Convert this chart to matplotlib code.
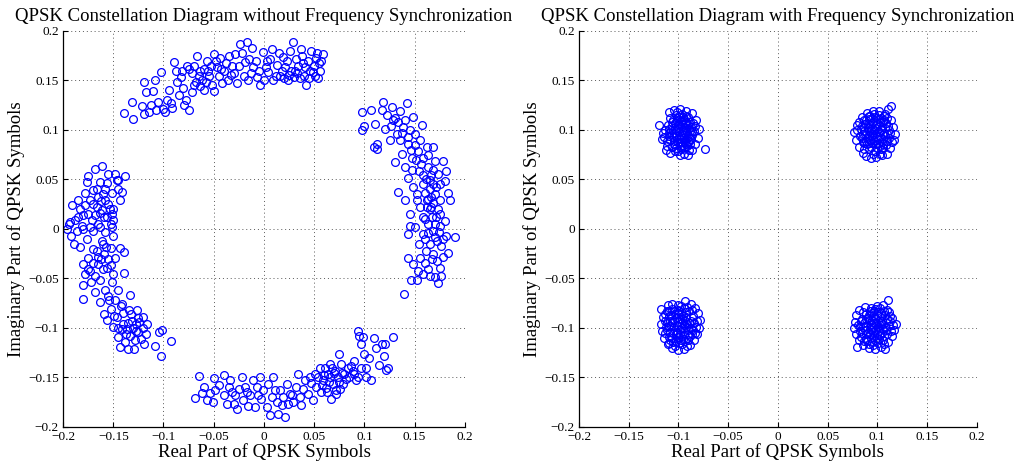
import matplotlib
matplotlib.use("Agg")
import matplotlib.pyplot as plt

plt.rcParams['font.family'] = ['Liberation Serif', 'DejaVu Serif']

# tick positions / labels shared by both panels
TICKS = [-0.2, -0.15, -0.1, -0.05, 0, 0.05, 0.1, 0.15, 0.2]
TICK_LABELS = ["\u22120.2", "\u22120.15", "\u22120.1", "\u22120.05", "0",
               "0.05", "0.1", "0.15", "0.2"]

TITLE_LEFT = "QPSK Constellation Diagram without Frequency Synchronization"
TITLE_RIGHT = "QPSK Constellation Diagram with Frequency Synchronization"
XLABEL = "Real Part of QPSK Symbols"
YLABEL = "Imaginary Part of QPSK Symbols"

# ---- left panel: rotated symbols (real, imag) ----
top_arc = [
    (-0.139, 0.117), (-0.131, 0.128), (-0.130, 0.111), (-0.121, 0.124), (-0.119, 0.148),
    (-0.117, 0.138), (-0.119, 0.116), (-0.114, 0.118), (-0.110, 0.139), (-0.108, 0.150),
    (-0.107, 0.120), (-0.102, 0.159), (-0.100, 0.121), (-0.097, 0.130), (-0.093, 0.127),
    (-0.090, 0.169), (-0.088, 0.160), (-0.087, 0.148), (-0.092, 0.122), (-0.083, 0.153),
    (-0.081, 0.142), (-0.078, 0.130), (-0.077, 0.165), (-0.075, 0.120), (-0.072, 0.158),
    (-0.070, 0.145), (-0.067, 0.175), (-0.064, 0.160), (-0.062, 0.150), (-0.060, 0.140),
    (-0.057, 0.170), (-0.055, 0.155), (-0.052, 0.145), (-0.050, 0.177), (-0.047, 0.164),
    (-0.044, 0.173), (-0.042, 0.147), (-0.040, 0.160), (-0.035, 0.175), (-0.032, 0.165),
    (-0.029, 0.177), (-0.027, 0.147), (-0.024, 0.187), (-0.022, 0.178), (-0.019, 0.169),
    (-0.017, 0.189), (-0.016, 0.150), (-0.012, 0.183), (-0.011, 0.164), (-0.007, 0.154),
    (-0.004, 0.145), (-0.001, 0.179), (0.003, 0.170), (0.004, 0.159), (0.008, 0.182),
    (0.009, 0.150), (0.013, 0.166), (0.016, 0.155), (0.019, 0.174), (0.021, 0.164),
    (0.024, 0.150), (0.026, 0.180), (0.029, 0.189), (0.031, 0.160), (0.032, 0.172),
    (0.036, 0.152), (0.037, 0.182), (0.041, 0.164), (0.042, 0.145), (0.047, 0.180),
    (0.049, 0.159), (0.052, 0.173), (0.054, 0.152), (0.057, 0.170), (0.059, 0.177),
    (0.056, 0.160), (-0.050, 0.139), (-0.065, 0.155), (-0.058, 0.148), (-0.053, 0.165),
    (-0.045, 0.155), (-0.038, 0.168), (-0.036, 0.150), (-0.030, 0.158), (-0.025, 0.165),
    (-0.020, 0.155), (-0.015, 0.172), (-0.008, 0.170), (-0.005, 0.160), (0.000, 0.150),
    (0.006, 0.172), (0.012, 0.155), (0.015, 0.178), (0.020, 0.152), (0.023, 0.170),
    (0.027, 0.160), (0.030, 0.153), (0.034, 0.165), (0.038, 0.175), (0.040, 0.155),
    (0.044, 0.170), (0.046, 0.160), (0.050, 0.165), (0.053, 0.178), (0.055, 0.168),
    (-0.095, 0.140), (-0.085, 0.135), (-0.105, 0.128), (-0.098, 0.118), (-0.080, 0.125),
    (-0.072, 0.138), (-0.068, 0.148), (-0.075, 0.162), (-0.060, 0.162), (-0.048, 0.170),
    (-0.064, 0.144), (-0.056, 0.160), (-0.043, 0.162), (-0.033, 0.156), (-0.013, 0.158),
    (0.002, 0.164), (0.018, 0.160), (0.025, 0.156), (0.033, 0.158), (0.039, 0.168),
    (0.045, 0.152), (0.051, 0.155), (-0.070, 0.165), (-0.082, 0.160), (-0.112, 0.125),
]

right_arc = [
    (0.098, 0.118), (0.098, 0.100), (0.100, 0.104), (0.107, 0.120), (0.110, 0.083),
    (0.113, 0.081), (0.111, 0.106), (0.113, 0.086), (0.118, 0.120), (0.119, 0.128),
    (0.121, 0.101), (0.123, 0.115), (0.125, 0.090), (0.127, 0.123), (0.128, 0.110),
    (0.130, 0.068), (0.132, 0.096), (0.133, 0.037), (0.135, 0.119), (0.137, 0.076),
    (0.138, 0.103), (0.140, 0.063), (0.140, 0.029), (0.142, 0.127), (0.143, 0.086),
    (0.143, 0.051), (0.145, 0.015), (0.147, 0.072), (0.148, 0.113), (0.148, 0.042),
    (0.150, 0.096), (0.152, 0.029), (0.153, 0.079), (0.154, 0.059), (0.155, 0.022),
    (0.157, 0.105), (0.158, 0.045), (0.158, 0.072), (0.160, 0.036), (0.162, 0.083),
    (0.162, 0.022), (0.163, 0.063), (0.165, 0.049), (0.166, 0.032), (0.168, 0.083),
    (0.170, 0.069), (0.171, 0.012), (0.171, 0.042), (0.173, 0.056), (0.175, 0.029),
    (0.178, 0.069), (0.180, 0.048), (0.181, 0.059), (0.185, 0.029), (0.183, 0.036),
    (0.162, 0.029), (0.166, 0.022), (0.160, 0.010), (0.170, 0.005), (0.175, 0.015),
    (0.165, 0.020), (0.180, 0.008), (0.158, 0.012), (0.170, -0.008), (0.160, -0.010),
    (0.178, -0.010), (0.152, 0.035), (0.158, 0.055), (0.163, 0.075), (0.155, 0.090),
    (0.147, 0.060), (0.168, 0.060), (0.175, 0.045), (0.145, 0.100), (0.140, 0.110),
    (0.130, 0.112), (0.135, 0.090), (0.150, 0.085), (0.170, 0.035), (0.165, 0.040),
    (0.145, 0.003), (0.150, 0.002), (0.143, -0.005), (0.158, -0.005), (0.163, 0.005),
    (0.168, -0.002), (0.175, 0.003), (0.181, -0.007), (0.190, -0.008), (0.172, -0.012),
    (0.165, -0.015), (0.176, -0.017), (0.183, -0.024), (0.161, -0.022), (0.168, -0.025),
    (0.155, -0.029), (0.143, -0.029), (0.148, -0.035), (0.160, -0.034), (0.172, -0.032),
    (0.175, -0.039), (0.153, -0.042), (0.146, -0.052), (0.158, -0.045), (0.165, -0.047),
    (0.173, -0.055), (0.170, -0.049), (0.176, -0.047), (0.139, -0.066), (0.152, -0.052),
    (0.126, 0.104), (0.133, 0.108), (0.137, 0.097), (0.143, 0.093), (0.146, 0.080),
    (0.151, 0.070), (0.156, 0.066), (0.161, 0.050), (0.166, 0.055), (0.168, 0.045),
    (0.163, 0.030), (0.168, 0.026), (0.173, 0.020), (0.167, 0.012), (0.174, -0.003),
    (0.163, -0.004), (0.167, -0.030), (0.178, -0.028), (0.163, -0.040), (0.154, -0.015),
]

left_arc = [
    (-0.196, 0.000), (-0.193, 0.007), (-0.191, 0.024), (-0.188, 0.009), (-0.185, 0.029),
    (-0.183, 0.020), (-0.180, 0.014), (-0.178, 0.036), (-0.176, 0.047), (-0.175, 0.053),
    (-0.173, 0.029), (-0.171, 0.009), (-0.170, 0.039), (-0.168, 0.061), (-0.166, 0.022),
    (-0.165, 0.032), (-0.163, 0.047), (-0.161, 0.064), (-0.159, 0.012), (-0.158, 0.029),
    (-0.156, 0.046), (-0.155, 0.056), (-0.153, 0.020), (-0.151, 0.036), (-0.150, 0.009),
    (-0.148, 0.056), (-0.146, 0.049), (-0.145, 0.049), (-0.143, 0.029), (-0.141, 0.037),
    (-0.138, 0.053), (-0.151, 0.015), (-0.161, 0.019), (-0.163, 0.016), (-0.173, 0.002),
    (-0.160, 0.035), (-0.155, 0.025), (-0.170, 0.025), (-0.165, 0.005), (-0.175, 0.015),
    (-0.180, 0.000), (-0.185, 0.012), (-0.158, 0.040), (-0.150, 0.020), (-0.145, 0.040),
    (-0.152, 0.005),
    (-0.194, 0.005), (-0.192, -0.007), (-0.189, -0.015), (-0.181, 0.003), (-0.183, -0.018),
    (-0.180, -0.035), (-0.178, -0.045), (-0.180, -0.057), (-0.180, -0.071), (-0.175, -0.029),
    (-0.173, -0.042), (-0.172, -0.054), (-0.170, -0.002), (-0.168, -0.064), (-0.166, -0.022),
    (-0.165, -0.035), (-0.163, -0.052), (-0.163, -0.074), (-0.161, -0.012), (-0.159, -0.025),
    (-0.159, -0.086), (-0.158, -0.062), (-0.156, -0.039), (-0.156, -0.092), (-0.154, -0.072),
    (-0.152, -0.019), (-0.152, -0.081), (-0.151, -0.054), (-0.150, -0.099), (-0.148, -0.029),
    (-0.148, -0.072), (-0.146, -0.089), (-0.145, -0.109), (-0.143, -0.119), (-0.141, -0.076),
    (-0.140, -0.096), (-0.139, -0.044), (-0.137, -0.106), (-0.135, -0.121), (-0.134, -0.082),
    (-0.133, -0.067), (-0.131, -0.093), (-0.129, -0.121), (-0.127, -0.103), (-0.126, -0.082),
    (-0.124, -0.094), (-0.122, -0.111), (-0.120, -0.089), (-0.117, -0.106), (-0.116, -0.096),
    (-0.119, -0.116), (-0.108, -0.118), (-0.104, -0.104), (-0.101, -0.102), (-0.102, -0.128),
    (-0.093, -0.113), (-0.139, -0.023), (-0.143, -0.019), (-0.150, -0.007), (-0.151, 0.002),
    (-0.163, 0.002), (-0.158, -0.003), (-0.176, -0.010), (-0.186, -0.002),
    (-0.130, -0.100), (-0.125, -0.090), (-0.135, -0.095), (-0.140, -0.085), (-0.145, -0.100),
    (-0.128, -0.112), (-0.138, -0.114), (-0.120, -0.100), (-0.133, -0.108), (-0.142, -0.078),
    (-0.155, -0.030), (-0.160, -0.040), (-0.150, -0.045), (-0.165, -0.028), (-0.170, -0.020),
    (-0.160, -0.015), (-0.175, -0.040), (-0.145, -0.062), (-0.155, -0.068), (-0.168, -0.048),
    (-0.166, 0.040), (-0.162, 0.028), (-0.156, 0.012), (-0.168, 0.014), (-0.178, 0.024),
    (-0.157, -0.018), (-0.162, -0.030), (-0.170, -0.034), (-0.152, -0.036), (-0.149, -0.088),
    (-0.141, -0.101), (-0.132, -0.086), (-0.127, -0.096), (-0.136, -0.101), (-0.125, -0.104),
]

bottom_arc = [
    (-0.069, -0.171), (-0.065, -0.149), (-0.062, -0.166), (-0.060, -0.160), (-0.057, -0.173),
    (-0.054, -0.166), (-0.051, -0.175), (-0.050, -0.151), (-0.049, -0.163), (-0.045, -0.158),
    (-0.040, -0.148), (-0.040, -0.168), (-0.037, -0.177), (-0.035, -0.160), (-0.034, -0.153),
    (-0.030, -0.177), (-0.029, -0.168), (-0.027, -0.182), (-0.025, -0.162), (-0.022, -0.150),
    (-0.021, -0.173), (-0.019, -0.160), (-0.016, -0.179), (-0.014, -0.168), (-0.011, -0.153),
    (-0.009, -0.180), (-0.007, -0.160), (-0.006, -0.168), (-0.004, -0.150), (-0.001, -0.163),
    (0.003, -0.180), (0.004, -0.157), (0.006, -0.188), (0.008, -0.170), (0.009, -0.150),
    (0.013, -0.175), (0.014, -0.187), (0.016, -0.163), (0.019, -0.170), (0.021, -0.190),
    (0.023, -0.157), (0.024, -0.177), (0.026, -0.167), (0.029, -0.175), (0.032, -0.160),
    (0.034, -0.146), (0.036, -0.170), (0.037, -0.178), (0.041, -0.153), (0.044, -0.167),
    (0.047, -0.156), (0.049, -0.173), (0.051, -0.146), (0.052, -0.160), (0.054, -0.150),
    (0.056, -0.140), (0.057, -0.165), (0.059, -0.153), (0.061, -0.140), (0.062, -0.161),
    (0.064, -0.146), (0.066, -0.136), (0.067, -0.172), (0.069, -0.157), (0.071, -0.143),
    (0.072, -0.163), (0.074, -0.150), (0.075, -0.126), (0.077, -0.136), (0.079, -0.157),
    (0.080, -0.146), (0.084, -0.140), (0.085, -0.150), (0.089, -0.143), (0.090, -0.133),
    (0.092, -0.153), (0.094, -0.103), (0.095, -0.108), (0.097, -0.116), (0.099, -0.109),
    (0.100, -0.126), (0.102, -0.140), (0.102, -0.150), (0.105, -0.130), (0.107, -0.153),
    (0.110, -0.110), (0.112, -0.120), (0.115, -0.137), (0.118, -0.116), (0.120, -0.128),
    (0.122, -0.142), (0.124, -0.140), (0.128, -0.109), (0.121, -0.116), (0.097, -0.140),
    (0.094, -0.150), (0.060, -0.148), (0.065, -0.155), (0.070, -0.145), (0.075, -0.155),
    (0.068, -0.140), (0.082, -0.152), (0.058, -0.158), (0.063, -0.165), (0.072, -0.167),
    (0.078, -0.145), (0.087, -0.138), (0.090, -0.146),
    (-0.032, -0.165), (-0.017, -0.165), (-0.003, -0.172), (0.011, -0.163), (0.018, -0.178),
    (0.028, -0.168), (0.039, -0.162), (0.046, -0.150), (0.066, -0.150), (0.076, -0.162),
]

# ---- right panel: the four synchronised QPSK clusters ----
blob_tl = [
    (-0.120, 0.105), (-0.110, 0.118), (-0.104, 0.120), (-0.098, 0.121), (-0.092, 0.119),
    (-0.086, 0.117), (-0.082, 0.110), (-0.079, 0.101), (-0.080, 0.092), (-0.083, 0.086),
    (-0.073, 0.081), (-0.086, 0.080), (-0.090, 0.075), (-0.094, 0.076), (-0.098, 0.075),
    (-0.103, 0.079), (-0.108, 0.077), (-0.112, 0.084), (-0.115, 0.093), (-0.114, 0.100),
    (-0.116, 0.097), (-0.111, 0.105), (-0.108, 0.112), (-0.102, 0.115), (-0.096, 0.116),
    (-0.090, 0.113), (-0.085, 0.107), (-0.084, 0.099), (-0.087, 0.091), (-0.091, 0.084),
    (-0.097, 0.081), (-0.103, 0.085), (-0.108, 0.090), (-0.110, 0.097), (-0.106, 0.104),
    (-0.101, 0.109), (-0.095, 0.110), (-0.090, 0.106), (-0.088, 0.099), (-0.091, 0.092),
    (-0.096, 0.088), (-0.101, 0.091), (-0.104, 0.097), (-0.100, 0.102), (-0.094, 0.103),
    (-0.093, 0.097), (-0.097, 0.094), (-0.099, 0.098), (-0.105, 0.093), (-0.106, 0.083),
    (-0.100, 0.079), (-0.093, 0.088), (-0.087, 0.103), (-0.092, 0.114), (-0.099, 0.113),
    (-0.112, 0.089), (-0.117, 0.091), (-0.113, 0.080), (-0.094, 0.083), (-0.088, 0.086),
    (-0.083, 0.104), (-0.096, 0.106), (-0.103, 0.107), (-0.107, 0.100), (-0.090, 0.095),
    (-0.098, 0.087), (-0.095, 0.100), (-0.092, 0.102), (-0.098, 0.104), (-0.102, 0.100),
    (-0.099, 0.092), (-0.094, 0.092), (-0.089, 0.089), (-0.104, 0.089), (-0.105, 0.110),
    (-0.092, 0.108), (-0.086, 0.095), (-0.097, 0.084), (-0.101, 0.112), (-0.109, 0.094),
    (-0.106, 0.096), (-0.103, 0.101), (-0.100, 0.106), (-0.097, 0.109), (-0.093, 0.106),
    (-0.089, 0.102), (-0.091, 0.098), (-0.095, 0.095), (-0.102, 0.094), (-0.097, 0.091),
    (-0.093, 0.090), (-0.100, 0.088), (-0.104, 0.086), (-0.096, 0.085), (-0.092, 0.086),
    (-0.089, 0.093), (-0.086, 0.099), (-0.088, 0.108), (-0.094, 0.111), (-0.106, 0.108),
    (-0.109, 0.101), (-0.095, 0.113), (-0.101, 0.118), (-0.089, 0.080), (-0.102, 0.082),
]

blob_tr = [
    (0.114, 0.124), (0.111, 0.121), (0.080, 0.105), (0.077, 0.098), (0.079, 0.090),
    (0.082, 0.083), (0.086, 0.077), (0.089, 0.074), (0.094, 0.072), (0.099, 0.073),
    (0.105, 0.075), (0.110, 0.076), (0.113, 0.082), (0.117, 0.090), (0.118, 0.096),
    (0.116, 0.103), (0.114, 0.110), (0.108, 0.116), (0.102, 0.119), (0.096, 0.119),
    (0.090, 0.117), (0.085, 0.113), (0.082, 0.108), (0.084, 0.101), (0.083, 0.094),
    (0.087, 0.087), (0.092, 0.081), (0.098, 0.079), (0.104, 0.081), (0.109, 0.085),
    (0.112, 0.092), (0.112, 0.100), (0.109, 0.107), (0.104, 0.112), (0.098, 0.113),
    (0.092, 0.111), (0.088, 0.106), (0.087, 0.099), (0.090, 0.092), (0.095, 0.087),
    (0.101, 0.087), (0.106, 0.091), (0.107, 0.097), (0.105, 0.103), (0.100, 0.107),
    (0.094, 0.105), (0.092, 0.099), (0.095, 0.094), (0.100, 0.093), (0.102, 0.098),
    (0.097, 0.100), (0.096, 0.096), (0.100, 0.082), (0.090, 0.086), (0.085, 0.092),
    (0.106, 0.086), (0.110, 0.112), (0.093, 0.114), (0.087, 0.081), (0.103, 0.076),
    (0.115, 0.088), (0.086, 0.096), (0.099, 0.102), (0.103, 0.108), (0.091, 0.102),
    (0.107, 0.114), (0.080, 0.100), (0.096, 0.076), (0.094, 0.100), (0.098, 0.096),
    (0.103, 0.094), (0.097, 0.090), (0.092, 0.095), (0.096, 0.108), (0.101, 0.111),
    (0.108, 0.102), (0.110, 0.096), (0.106, 0.108), (0.089, 0.110), (0.093, 0.090),
    (0.088, 0.096), (0.091, 0.106), (0.095, 0.102), (0.099, 0.105), (0.104, 0.100),
    (0.108, 0.094), (0.105, 0.088), (0.101, 0.091), (0.096, 0.092), (0.092, 0.087),
    (0.089, 0.089), (0.094, 0.083), (0.099, 0.086), (0.103, 0.084), (0.106, 0.082),
    (0.110, 0.089), (0.113, 0.097), (0.111, 0.104), (0.107, 0.110), (0.102, 0.115),
    (0.097, 0.116), (0.092, 0.114), (0.087, 0.110), (0.085, 0.104), (0.086, 0.088),
]

blob_bl = [
    (-0.118, -0.081), (-0.111, -0.077), (-0.106, -0.076), (-0.100, -0.077), (-0.093, -0.073),
    (-0.087, -0.076), (-0.083, -0.080), (-0.080, -0.085), (-0.078, -0.092), (-0.079, -0.100),
    (-0.081, -0.106), (-0.084, -0.112), (-0.088, -0.117), (-0.094, -0.121), (-0.100, -0.122),
    (-0.106, -0.120), (-0.111, -0.116), (-0.115, -0.110), (-0.117, -0.103), (-0.118, -0.096),
    (-0.116, -0.089), (-0.112, -0.083), (-0.106, -0.081), (-0.100, -0.082), (-0.094, -0.080),
    (-0.089, -0.083), (-0.085, -0.088), (-0.084, -0.095), (-0.085, -0.102), (-0.088, -0.108),
    (-0.093, -0.113), (-0.099, -0.115), (-0.105, -0.114), (-0.110, -0.109), (-0.112, -0.102),
    (-0.112, -0.094), (-0.109, -0.088), (-0.103, -0.086), (-0.097, -0.086), (-0.092, -0.089),
    (-0.089, -0.095), (-0.090, -0.102), (-0.094, -0.107), (-0.100, -0.109), (-0.105, -0.105),
    (-0.107, -0.098), (-0.104, -0.092), (-0.098, -0.091), (-0.094, -0.097), (-0.098, -0.102),
    (-0.101, -0.097), (-0.096, -0.095), (-0.110, -0.115), (-0.081, -0.093), (-0.091, -0.118),
    (-0.103, -0.118), (-0.114, -0.086), (-0.087, -0.100), (-0.107, -0.087), (-0.095, -0.111),
    (-0.101, -0.104), (-0.104, -0.099), (-0.092, -0.084), (-0.083, -0.105), (-0.113, -0.099),
    (-0.097, -0.078), (-0.096, -0.100), (-0.100, -0.094), (-0.093, -0.093), (-0.102, -0.090),
    (-0.108, -0.093), (-0.106, -0.110), (-0.097, -0.112), (-0.090, -0.106), (-0.087, -0.093),
    (-0.099, -0.083), (-0.103, -0.102), (-0.092, -0.099), (-0.108, -0.104), (-0.095, -0.088),
    (-0.110, -0.098), (-0.106, -0.094), (-0.102, -0.106), (-0.098, -0.106), (-0.094, -0.103),
    (-0.091, -0.096), (-0.096, -0.091), (-0.100, -0.086), (-0.104, -0.083), (-0.109, -0.083),
    (-0.114, -0.093), (-0.114, -0.105), (-0.108, -0.112), (-0.102, -0.113), (-0.096, -0.116),
    (-0.090, -0.112), (-0.086, -0.106), (-0.082, -0.099), (-0.086, -0.082), (-0.091, -0.079),
]

blob_br = [
    (0.111, -0.072), (0.106, -0.077), (0.100, -0.078), (0.094, -0.080), (0.088, -0.079),
    (0.082, -0.082), (0.079, -0.087), (0.078, -0.094), (0.077, -0.100), (0.079, -0.106),
    (0.082, -0.112), (0.080, -0.119), (0.086, -0.117), (0.092, -0.120), (0.098, -0.121),
    (0.104, -0.119), (0.108, -0.121), (0.111, -0.114), (0.115, -0.108), (0.117, -0.102),
    (0.119, -0.096), (0.115, -0.090), (0.112, -0.084), (0.107, -0.083), (0.101, -0.084),
    (0.095, -0.085), (0.089, -0.086), (0.085, -0.091), (0.083, -0.098), (0.085, -0.105),
    (0.089, -0.111), (0.095, -0.114), (0.101, -0.115), (0.106, -0.112), (0.110, -0.106),
    (0.112, -0.098), (0.110, -0.091), (0.104, -0.089), (0.098, -0.090), (0.092, -0.092),
    (0.089, -0.098), (0.091, -0.105), (0.097, -0.108), (0.103, -0.107), (0.106, -0.101),
    (0.104, -0.095), (0.099, -0.096), (0.095, -0.100), (0.099, -0.102), (0.101, -0.099),
    (0.096, -0.104), (0.086, -0.084), (0.113, -0.093), (0.092, -0.116), (0.108, -0.087),
    (0.084, -0.109), (0.097, -0.083), (0.107, -0.116), (0.094, -0.096), (0.102, -0.111),
    (0.088, -0.102), (0.114, -0.103), (0.081, -0.097), (0.092, -0.087), (0.105, -0.093),
    (0.100, -0.087), (0.097, -0.099), (0.102, -0.103), (0.093, -0.101), (0.098, -0.112),
    (0.104, -0.085), (0.109, -0.102), (0.087, -0.095), (0.091, -0.090), (0.107, -0.108),
    (0.095, -0.092), (0.100, -0.106), (0.103, -0.097), (0.094, -0.110), (0.090, -0.113),
    (0.086, -0.099), (0.089, -0.106), (0.093, -0.106), (0.097, -0.095), (0.101, -0.093),
    (0.106, -0.096), (0.108, -0.099), (0.105, -0.105), (0.100, -0.110), (0.096, -0.117),
    (0.087, -0.113), (0.083, -0.103), (0.084, -0.093), (0.089, -0.091), (0.093, -0.083),
    (0.098, -0.081), (0.103, -0.080), (0.110, -0.082), (0.113, -0.088), (0.116, -0.097),
]


def style_axes(ax, title):
    ax.set_xlim(-0.2, 0.2)
    ax.set_ylim(-0.2, 0.2)
    ax.set_xticks(TICKS)
    ax.set_xticklabels(TICK_LABELS)
    ax.set_yticks(TICKS)
    ax.set_yticklabels(TICK_LABELS)
    ax.tick_params(direction='in', length=3.5, width=0.8, labelsize=9.5,
                   top=False, right=False, pad=3)
    ax.spines['top'].set_visible(False)
    ax.spines['right'].set_visible(False)
    ax.spines['left'].set_linewidth(0.9)
    ax.spines['bottom'].set_linewidth(0.9)
    ax.grid(True, linestyle=(0, (1, 3)), color='0.35', linewidth=0.7)
    ax.set_axisbelow(True)
    ax.set_title(title, fontsize=13.5, pad=7)
    ax.set_xlabel(XLABEL, fontsize=13.5, labelpad=0)
    ax.set_ylabel(YLABEL, fontsize=13.5, labelpad=2)


def scatter(ax, pts):
    xs = [p[0] for p in pts]
    ys = [p[1] for p in pts]
    ax.plot(xs, ys, 'o', mfc='none', mec='#0000ff', ms=5.6, mew=0.9, clip_on=False)


fig = plt.figure(figsize=(10.25, 4.67), dpi=100)
ax1 = fig.add_axes([0.0615, 0.0857, 0.392, 0.848])
ax2 = fig.add_axes([0.5649, 0.0857, 0.388, 0.848])

for pts in (top_arc, right_arc, left_arc, bottom_arc):
    scatter(ax1, pts)
for pts in (blob_tl, blob_tr, blob_bl, blob_br):
    scatter(ax2, pts)

style_axes(ax1, TITLE_LEFT)
style_axes(ax2, TITLE_RIGHT)

fig.savefig("out.png", dpi=100)
